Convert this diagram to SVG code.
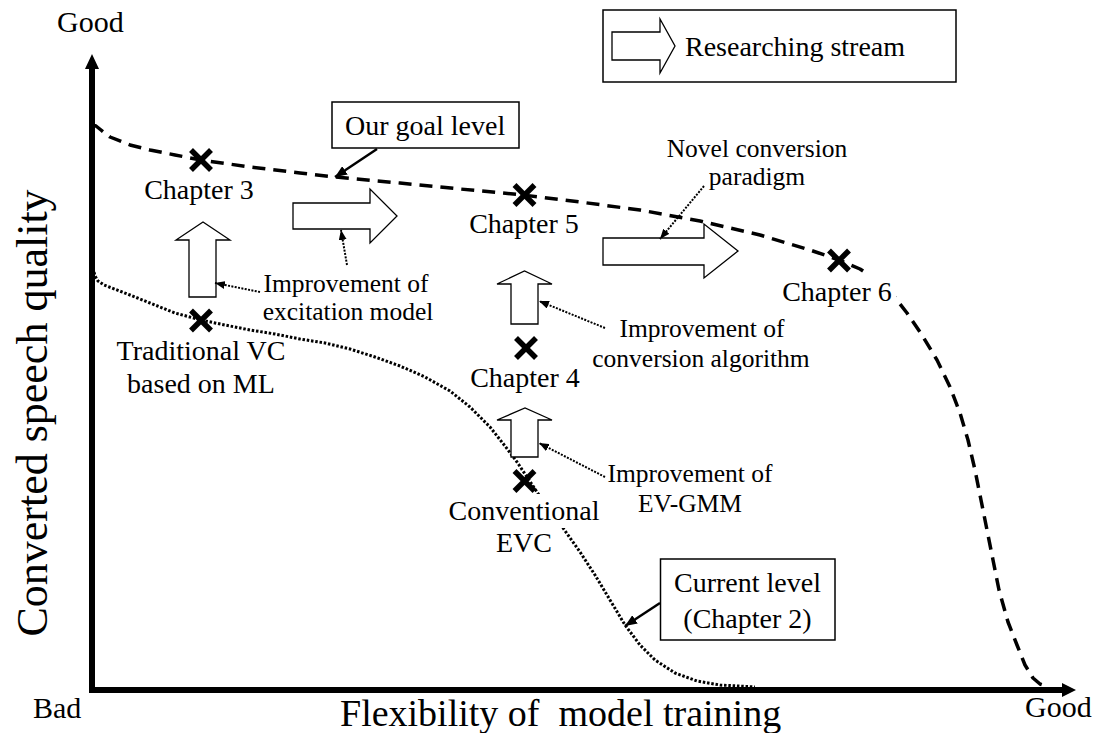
<svg xmlns="http://www.w3.org/2000/svg" width="1097" height="733" viewBox="0 0 1097 733" font-family="'Liberation Serif', 'Times New Roman', Times, serif">
  <style>
    text { font-family: 'Liberation Serif', 'Times New Roman', Times, serif; fill: #000; }
    .lab { font-size: 28px; }
    .note { font-size: 25.5px; }
    .ax { font-size: 30px; }
    .mid { text-anchor: middle; }
    .axis { fill: none; stroke: #000; stroke-width: 6; stroke-linejoin: miter; }
    .goal { fill: none; stroke: #000; stroke-width: 3.5; stroke-dasharray: 13 8; stroke-linejoin: round; }
    .curr { fill: none; stroke: #000; stroke-width: 3; stroke-dasharray: 2.5 1.8; stroke-linejoin: round; }
    .cross { stroke: #000; stroke-width: 5.5; }
    .blk { fill: #fff; stroke: #000; stroke-width: 1.3; stroke-linejoin: miter; }
    .box { fill: #fff; stroke: #000; stroke-width: 1.5; }
    .bg { fill: #fff; stroke: none; }
    .dot { fill: none; stroke: #000; stroke-width: 2; stroke-dasharray: 2 1.4; }
    .sol { fill: none; stroke: #000; stroke-width: 2.5; }
  </style>
  <defs>
    <marker id="tipS" viewBox="0 0 10 8" refX="10" refY="4" markerWidth="10" markerHeight="8" orient="auto" markerUnits="userSpaceOnUse">
      <path d="M0,0 L10,4 L0,8 z" fill="#000"/>
    </marker>
    <marker id="tipL" viewBox="0 0 12 10" refX="12" refY="5" markerWidth="12" markerHeight="10" orient="auto" markerUnits="userSpaceOnUse">
      <path d="M0,0 L12,5 L0,10 z" fill="#000"/>
    </marker>
    <g id="xmark">
      <line class="cross" x1="-10" y1="-10" x2="10" y2="10"/>
      <line class="cross" x1="-10" y1="10" x2="10" y2="-10"/>
    </g>
  </defs>
  <rect width="1097" height="733" fill="#fff"/>

  <!-- axes -->
  <g id="axes">
    <path class="axis" d="M92,69 L92,690 L1062,690"/>
    <path d="M92,54 L99,69 L85,69 z" fill="#000"/>
    <path d="M1076,690 L1062,683 L1062,697 z" fill="#000"/>
    <text class="ax" x="57" y="32">Good</text>
    <text class="ax" x="33" y="718">Bad</text>
    <text class="ax" x="1025" y="717">Good</text>
    <text x="340" y="726" font-size="38" xml:space="preserve">Flexibility of  model training</text>
    <text x="47" y="413" font-size="44" text-anchor="middle" transform="rotate(-90 47 413)">Converted speech quality</text>
  </g>

  <!-- quality / flexibility trade-off curves -->
  <g id="curves">
    <polyline class="goal" points="92,125 96,126 101,130 110,137 130,145 150,150 175,155 201,160 250,167 300,173 335,177 400,183 460,189 523,195 580,202 640,210 700,221 760,235 810,250 839,260 860,269 878,281 893,295 907,313 922,335 937,360 950,387 960,413 968,440 975,470 981,500 987,530 993,560 999,590 1008,622 1017,645 1025,665 1033,678 1040,684 1046,686"/>
    <polyline class="curr" points="93,268 95,276 98,281 104,285 130,295 150,303 175,313 201,320 225,325 250,330 275,334 300,339 325,343 350,349 375,357 400,366 425,377 450,391 470,407 490,427 505,446 517,462 527,477 537,492 547,507 563,528 580,552 595,575 610,600 625,625 640,645 655,660 675,673 697,681 720,685 755,687"/>
  </g>

  <!-- research-stream block arrows -->
  <g id="streams">
    <polygon class="blk" points="189,297 189,240 176,240 203,222 230,240 216,240 216,297"/>
    <polygon class="blk" points="293,203 370,203 370,189 397,216 370,243 370,229 293,229"/>
    <polygon class="blk" points="511,324 511,284 497,284 524.5,271 552,284 538,284 538,324"/>
    <polygon class="blk" points="511,457 511,420 497,420 525,408 552,420 538,420 538,457"/>
    <polygon class="blk" points="603,238 704,238 704,224 738,251 704,278 704,265 603,265"/>
  </g>

  <!-- callout connectors -->
  <g id="connectors">
    <line class="sol" x1="377" y1="149" x2="335" y2="177" marker-end="url(#tipL)"/>
    <line class="sol" x1="660" y1="603" x2="625" y2="626" marker-end="url(#tipL)"/>
    <line class="dot" x1="260" y1="292" x2="215" y2="283" marker-end="url(#tipS)"/>
    <line class="dot" x1="347" y1="265" x2="341" y2="230" marker-end="url(#tipS)"/>
    <line class="dot" x1="605" y1="328" x2="539" y2="301" marker-end="url(#tipS)"/>
    <line class="dot" x1="605" y1="477" x2="539" y2="443" marker-end="url(#tipS)"/>
    <line class="dot" x1="704" y1="186" x2="660" y2="239" marker-end="url(#tipS)"/>
  </g>

  <!-- legend -->
  <g id="legend">
    <rect class="box" x="603" y="10" width="353" height="72"/>
    <polygon class="blk" points="612,32 660,32 660,19 675,46 660,73 660,60 612,60"/>
    <text class="lab" x="685" y="56">Researching stream</text>
  </g>

  <!-- milestones -->
  <g id="ch3">
    <use href="#xmark" x="201" y="160"/>
    <text class="lab mid" x="199" y="199">Chapter 3</text>
  </g>
  <g id="ch5">
    <use href="#xmark" x="524.5" y="195"/>
    <text class="lab mid" x="524" y="233">Chapter 5</text>
  </g>
  <g id="ch6">
    <rect class="bg" x="778" y="274" width="118" height="34"/>
    <use href="#xmark" x="839" y="260.5"/>
    <text class="lab mid" x="837" y="301">Chapter 6</text>
  </g>
  <g id="ch4">
    <use href="#xmark" x="526" y="348"/>
    <text class="lab mid" x="525" y="387">Chapter 4</text>
  </g>
  <g id="traditional">
    <use href="#xmark" x="201" y="320.5"/>
    <text class="lab mid" x="201" y="360">Traditional VC</text>
    <text class="lab mid" x="201" y="393">based on ML</text>
  </g>
  <g id="conventional">
    <rect class="bg" x="446" y="494" width="156" height="34"/>
    <use href="#xmark" x="524.5" y="481"/>
    <text class="lab mid" x="524" y="520">Conventional</text>
    <text class="lab mid" x="524" y="552">EVC</text>
  </g>

  <!-- level callouts -->
  <g id="goal-level">
    <rect class="box" x="332" y="102" width="187" height="46"/>
    <text class="lab" x="345" y="135">Our goal level</text>
  </g>
  <g id="current-level">
    <rect class="box" x="660.5" y="559" width="174.5" height="81"/>
    <text class="lab mid" x="747.5" y="592">Current level</text>
    <text class="lab mid" x="747.5" y="628">(Chapter 2)</text>
  </g>

  <!-- improvement notes -->
  <g id="note-excitation">
    <text class="note mid" x="346" y="292">Improvement of</text>
    <text class="note mid" x="348" y="320">excitation model</text>
  </g>
  <g id="note-algorithm">
    <text class="note mid" x="702" y="337">Improvement of</text>
    <text class="note mid" x="701" y="367">conversion algorithm</text>
  </g>
  <g id="note-evgmm">
    <text class="note mid" x="690" y="482">Improvement of</text>
    <text class="note mid" x="690" y="512">EV-GMM</text>
  </g>
  <g id="note-paradigm">
    <text class="note mid" x="757" y="157">Novel conversion</text>
    <text class="note mid" x="757" y="185">paradigm</text>
  </g>
</svg>
